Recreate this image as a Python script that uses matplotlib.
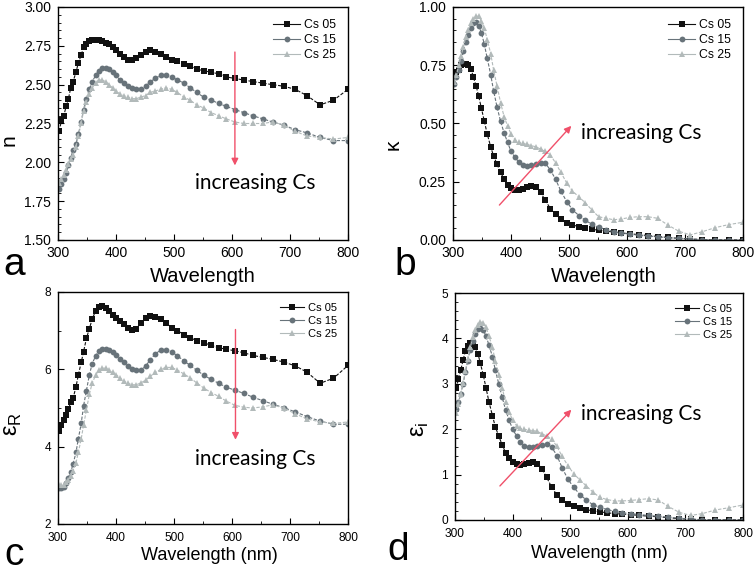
import matplotlib
matplotlib.use("Agg")
import matplotlib.pyplot as plt
from matplotlib.ticker import MultipleLocator, FormatStrFormatter

plt.rcParams['font.family'] = ['Liberation Sans', 'DejaVu Sans']

# wavelength grid (nm) of the measured points
wl = [302, 306, 310, 314, 318, 322, 326, 331, 335, 340,
      344, 349, 354, 359, 365, 370, 376, 382, 388, 394,
      400, 407, 413, 420, 428, 435, 443, 451, 459, 468,
      477, 486, 496, 506, 517, 528, 539, 551, 564, 577,
      590, 605, 620, 636, 653, 670, 689, 709, 729, 752,
      775, 800]

labels = ['Cs 05', 'Cs 15', 'Cs 25']

n05 = [2.20, 2.27, 2.30, 2.36, 2.41, 2.48, 2.52, 2.58, 2.64, 2.69,
       2.74, 2.76, 2.78, 2.79, 2.79, 2.79, 2.78, 2.77, 2.76, 2.74,
       2.72, 2.70, 2.68, 2.66, 2.66, 2.67, 2.69, 2.71, 2.72, 2.71,
       2.70, 2.68, 2.66, 2.65, 2.63, 2.62, 2.60, 2.59, 2.58, 2.57,
       2.55, 2.54, 2.53, 2.52, 2.51, 2.50, 2.49, 2.47, 2.43, 2.37,
       2.40, 2.47]
n15 = [1.83, 1.86, 1.89, 1.93, 1.98, 2.03, 2.08, 2.12, 2.18, 2.26,
       2.34, 2.41, 2.47, 2.52, 2.56, 2.59, 2.61, 2.61, 2.60, 2.58,
       2.56, 2.53, 2.51, 2.49, 2.48, 2.47, 2.47, 2.49, 2.52, 2.54,
       2.56, 2.56, 2.55, 2.53, 2.51, 2.48, 2.45, 2.42, 2.40, 2.38,
       2.36, 2.34, 2.32, 2.30, 2.28, 2.26, 2.24, 2.21, 2.19, 2.16,
       2.14, 2.14]
n25 = [1.87, 1.89, 1.92, 1.95, 1.99, 2.02, 2.05, 2.10, 2.17, 2.25,
       2.33, 2.39, 2.44, 2.48, 2.51, 2.53, 2.53, 2.52, 2.50, 2.48,
       2.46, 2.44, 2.43, 2.42, 2.41, 2.41, 2.42, 2.43, 2.45, 2.46,
       2.47, 2.48, 2.47, 2.45, 2.42, 2.40, 2.37, 2.35, 2.32, 2.30,
       2.28, 2.26, 2.25, 2.25, 2.25, 2.26, 2.24, 2.20, 2.17, 2.16,
       2.15, 2.16]

k05 = [0.70, 0.72, 0.73, 0.75, 0.755, 0.755, 0.75, 0.735, 0.70, 0.66,
       0.62, 0.565, 0.51, 0.455, 0.40, 0.36, 0.325, 0.29, 0.262, 0.238,
       0.222, 0.215, 0.215, 0.22, 0.226, 0.232, 0.228, 0.205, 0.17, 0.135,
       0.11, 0.09, 0.075, 0.065, 0.057, 0.05, 0.046, 0.042, 0.038, 0.034,
       0.03, 0.027, 0.023, 0.019, 0.015, 0.011, 0.007, 0.004, 0.002, 0.0,
       0.0, 0.0]
k15 = [0.67, 0.70, 0.73, 0.77, 0.81, 0.85, 0.88, 0.91, 0.93, 0.935,
       0.92, 0.89, 0.84, 0.78, 0.71, 0.64, 0.57, 0.51, 0.46, 0.42,
       0.38, 0.355, 0.335, 0.322, 0.318, 0.32, 0.325, 0.33, 0.33, 0.30,
       0.26, 0.21, 0.165, 0.13, 0.105, 0.085, 0.068, 0.054, 0.045, 0.036,
       0.03, 0.025, 0.02, 0.017, 0.013, 0.01, 0.007, 0.004, 0.002, 0.001,
       0.0, 0.0]
k25 = [0.68, 0.71, 0.75, 0.79, 0.83, 0.87, 0.90, 0.93, 0.95, 0.96,
       0.96, 0.94, 0.91, 0.86, 0.80, 0.73, 0.66, 0.59, 0.53, 0.49,
       0.455, 0.43, 0.42, 0.415, 0.41, 0.405, 0.40, 0.39, 0.38, 0.365,
       0.33, 0.29, 0.245, 0.21, 0.185, 0.16, 0.13, 0.10, 0.093, 0.087,
       0.09, 0.097, 0.10, 0.10, 0.093, 0.065, 0.038, 0.022, 0.035, 0.053,
       0.066, 0.076]

er05 = [4.40, 4.55, 4.70, 4.82, 4.97, 5.15, 5.25, 5.55, 5.85, 6.18,
        6.45, 6.80, 7.05, 7.30, 7.52, 7.62, 7.63, 7.58, 7.50, 7.40,
        7.32, 7.25, 7.17, 7.08, 7.03, 7.05, 7.20, 7.33, 7.38, 7.36,
        7.30, 7.20, 7.08, 7.00, 6.90, 6.82, 6.74, 6.69, 6.62, 6.56,
        6.52, 6.48, 6.43, 6.36, 6.31, 6.26, 6.19, 6.09, 5.93, 5.64,
        5.77, 6.10]
er15 = [2.92, 2.92, 2.95, 3.05, 3.20, 3.35, 3.55, 3.85, 4.20, 4.60,
        5.05, 5.45, 5.85, 6.15, 6.35, 6.48, 6.53, 6.53, 6.50, 6.44,
        6.36, 6.28, 6.18, 6.08, 6.00, 5.97, 5.98, 6.08, 6.25, 6.40,
        6.50, 6.50, 6.45, 6.35, 6.22, 6.10, 5.98, 5.85, 5.74, 5.64,
        5.54, 5.46, 5.38, 5.28, 5.19, 5.10, 5.01, 4.90, 4.78, 4.66,
        4.58, 4.58]
er25 = [3.00, 3.00, 3.02, 3.08, 3.15, 3.25, 3.38, 3.58, 3.85, 4.20,
        4.55, 4.95, 5.35, 5.65, 5.85, 5.97, 6.03, 6.03, 5.99, 5.93,
        5.86, 5.78, 5.70, 5.64, 5.60, 5.60, 5.65, 5.72, 5.82, 5.92,
        6.00, 6.05, 6.05, 5.98, 5.88, 5.78, 5.65, 5.52, 5.40, 5.30,
        5.18, 5.07, 5.02, 5.00, 5.03, 5.08, 5.00, 4.85, 4.72, 4.64,
        4.60, 4.64]

ei05 = [2.90, 3.10, 3.30, 3.52, 3.72, 3.84, 3.90, 3.88, 3.80, 3.66,
        3.45, 3.20, 2.90, 2.60, 2.30, 2.05, 1.85, 1.65, 1.48, 1.36,
        1.28, 1.23, 1.22, 1.24, 1.26, 1.27, 1.24, 1.13, 0.94, 0.72,
        0.55, 0.43, 0.35, 0.30, 0.26, 0.23, 0.20, 0.18, 0.16, 0.14,
        0.13, 0.12, 0.10, 0.085, 0.07, 0.05, 0.03, 0.015, 0.005, 0.0,
        0.0, 0.0]
ei15 = [2.45, 2.60, 2.78, 3.00, 3.25, 3.50, 3.75, 3.95, 4.10, 4.20,
        4.22, 4.18, 4.05, 3.85, 3.60, 3.30, 3.00, 2.70, 2.42, 2.20,
        2.00, 1.85, 1.72, 1.64, 1.60, 1.60, 1.62, 1.66, 1.68, 1.60,
        1.42, 1.15, 0.90, 0.72, 0.56, 0.44, 0.34, 0.28, 0.23, 0.19,
        0.16, 0.14, 0.12, 0.10, 0.08, 0.06, 0.04, 0.02, 0.01, 0.005,
        0.0, 0.0]
ei25 = [2.35, 2.55, 2.78, 3.02, 3.28, 3.55, 3.80, 4.02, 4.18, 4.30,
        4.36, 4.35, 4.25, 4.05, 3.80, 3.50, 3.20, 2.90, 2.60, 2.38,
        2.20, 2.08, 2.02, 2.00, 1.98, 1.97, 1.95, 1.90, 1.85, 1.78,
        1.62, 1.40, 1.20, 1.02, 0.88, 0.75, 0.62, 0.50, 0.45, 0.42,
        0.42, 0.43, 0.45, 0.47, 0.44, 0.30, 0.17, 0.10, 0.14, 0.22,
        0.27, 0.33]

colors = ['#111111', '#68737a', '#b2baba']
markers = ['s', 'o', '^']
arrow_col = '#f0506a'

W, H = 756, 578
fig = plt.figure(figsize=(W / 100, H / 100), dpi=100)


def box(x0, y0, x1, y1):
    return [x0 / W, 1 - y1 / H, (x1 - x0) / W, (y1 - y0) / H]


panels = [
    dict(rect=box(58, 7, 348, 240), data=[n05, n15, n25], ylim=(1.5, 3.0),
         major=0.25, minor=0.05, fmt='%.2f', tick_fs=10, leg_fs=8.8, xpad=4,
         arrow=((605, 2.71), (605, 1.98)), text=(536, 1.87)),
    dict(rect=box(453, 7, 743, 240), data=[k05, k15, k25], ylim=(0.0, 1.0),
         major=0.25, minor=0.05, fmt='%.2f', tick_fs=10, leg_fs=8.8, xpad=4,
         arrow=((380, 0.15), (504, 0.49)), text=(521, 0.46)),
    dict(rect=box(58, 292, 348, 524), data=[er05, er15, er25], ylim=(2, 8),
         major=2, minor=1, fmt='%d', tick_fs=8.6, leg_fs=8, xpad=6,
         arrow=((606, 7.03), (606, 4.18)), text=(536, 3.68)),
    dict(rect=box(455, 293, 743, 520), data=[ei05, ei15, ei25], ylim=(0, 5),
         major=1, minor=0.2, fmt='%d', tick_fs=8.6, leg_fs=8, xpad=6,
         arrow=((378, 0.75), (502, 2.43)), text=(519, 2.33)),
]

for p in panels:
    ax = fig.add_axes(p['rect'])
    for vals, lab, c, m in zip(p['data'], labels, colors, markers):
        ax.plot(wl, vals, color=c, marker=m, markersize=4.2, lw=0.8,
                ls=(0, (3, 1.5)), label=lab, markeredgewidth=0)
    ax.set_xlim(300, 800)
    ax.set_ylim(*p['ylim'])
    ax.xaxis.set_major_locator(MultipleLocator(100))
    ax.xaxis.set_minor_locator(MultipleLocator(50))
    ax.yaxis.set_major_locator(MultipleLocator(p['major']))
    ax.yaxis.set_minor_locator(MultipleLocator(p['minor']))
    ax.yaxis.set_major_formatter(FormatStrFormatter(p['fmt']))
    ax.tick_params(which='both', direction='in', top=False, right=False,
                   labelsize=p['tick_fs'])
    ax.tick_params(axis='x', pad=p['xpad'])
    ax.tick_params(axis='y', pad=5)
    ax.tick_params(which='major', length=4)
    ax.tick_params(which='minor', length=2)
    for s in ax.spines.values():
        s.set_linewidth(1.0)
    leg = ax.legend(loc='upper right', frameon=False, fontsize=p['leg_fs'],
                    handlelength=2.2, handletextpad=0.3, labelspacing=0.25,
                    borderaxespad=0.6)
    for h in leg.get_lines():
        h.set_linestyle('-')
    ax.annotate('', xy=p['arrow'][1], xytext=p['arrow'][0],
                arrowprops=dict(arrowstyle='-|>', color=arrow_col, lw=1.0,
                                mutation_scale=10, shrinkA=0, shrinkB=0))
    ax.text(p['text'][0], p['text'][1], 'increasing Cs', family='Lato',
            fontsize=15, ha='left', va='center')

# axis titles and panel letters
fig.text(203 / W, 1 - 277 / H, 'Wavelength', fontsize=14.5, ha='center', va='center')
fig.text(604 / W, 1 - 277 / H, 'Wavelength', fontsize=14.5, ha='center', va='center')
fig.text(209 / W, 1 - 556 / H, 'Wavelength (nm)', fontsize=13, ha='center', va='center')
fig.text(599 / W, 1 - 554 / H, 'Wavelength (nm)', fontsize=13, ha='center', va='center')

fig.text(9 / W, 1 - 140 / H, 'n', fontsize=15, rotation=90, ha='center', va='center')
fig.text(393 / W, 1 - 145 / H, 'κ', fontsize=15, rotation=90, ha='center', va='center')
fig.text(13 / W, 1 - 424 / H, r'ε$_\mathregular{R}$', fontsize=17, rotation=90,
         ha='center', va='center')
fig.text(420 / W, 1 - 429 / H, r'ε$_\mathregular{i}$', fontsize=17, rotation=90,
         ha='center', va='center')

fig.text(14 / W, 1 - 265 / H, 'a', fontsize=28, ha='center', va='center')
fig.text(405 / W, 1 - 265 / H, 'b', fontsize=28, ha='center', va='center')
fig.text(14 / W, 1 - 555 / H, 'c', fontsize=28, ha='center', va='center')
fig.text(398 / W, 1 - 550 / H, 'd', fontsize=28, ha='center', va='center')

fig.savefig('out.png', dpi=100)
